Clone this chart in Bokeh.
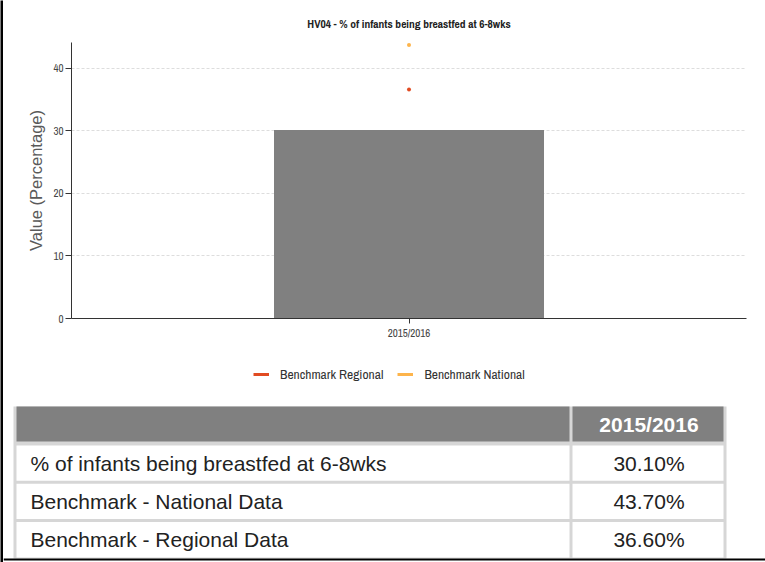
from bokeh.plotting import figure
from bokeh.models import (FactorRange, Range1d, FixedTicker, Legend, LegendItem, Title)
from bokeh.layouts import column, row
from bokeh.core.properties import value
from bokeh.embed import file_html
from bokeh.resources import INLINE

# ---- data ----
years = ["2015/2016"]
indicator = [30.1]
benchmark_national = [43.7]
benchmark_regional = [36.6]
y_ticks = [0, 10, 20, 30, 40]
title_text = "HV04 - % of infants being breastfed at 6-8wks"
row_labels = ["% of infants being breastfed at 6-8wks",
              "Benchmark - National Data",
              "Benchmark - Regional Data"]
row_values = [indicator[0], benchmark_national[0], benchmark_regional[0]]
legend_labels = ["Benchmark Regional", "Benchmark National"]

NARROW = "Archivo Narrow"
SANS = "Liberation Sans"
RED = "#E14B22"
ORANGE = "#FDB44B"

# ---- left page border strip ----
strip = figure(width=3, height=562, output_backend="svg", toolbar_location=None, min_border=0,
               x_axis_location=None, y_axis_location=None, frame_align=False)
strip.border_fill_color = "black"
strip.background_fill_color = "black"
strip.outline_line_color = None
strip.grid.visible = False

# ---- chart ----
p = figure(width=762, height=345, x_range=FactorRange(factors=years, range_padding=0),
           y_range=Range1d(0, 44.1), output_backend="svg", toolbar_location=None,
           min_border_left=68, min_border_right=19, min_border_top=42, min_border_bottom=27,
           frame_align=False)
p.outline_line_color = None
p.background_fill_color = "white"
p.border_fill_color = "white"

p.title = Title(text=title_text, align="center", text_font=NARROW, text_font_size="11.5px",
                text_font_style="bold", text_color="#222", standoff=21)

p.vbar(x=years, top=indicator, width=0.4, color="#808080", line_color=None)
p.scatter(x=years, y=benchmark_regional, size=4, color=RED, line_color=None)
p.scatter(x=years, y=benchmark_national, size=4, color=ORANGE, line_color=None)

p.xgrid.visible = False
p.ygrid.grid_line_color = "#dddddd"
p.ygrid.grid_line_dash = "3 2"
p.ygrid.ticker = FixedTicker(ticks=y_ticks[1:])

ya = p.yaxis[0]
ya.ticker = FixedTicker(ticks=y_ticks)
ya.axis_label = "Value (Percentage)"
ya.axis_label_text_font = SANS
ya.axis_label_text_font_size = "16.5px"
ya.axis_label_text_font_style = "normal"
ya.axis_label_text_color = "#5a5a5a"
ya.axis_label_standoff = 5
ya.major_label_text_font = NARROW
ya.major_label_text_font_size = "11px"
ya.major_label_text_color = "#444"
ya.major_label_standoff = 2
ya.major_tick_out = 6
ya.major_tick_in = 0
ya.minor_tick_out = 0
ya.minor_tick_in = 0
ya.axis_line_color = "#333"
ya.major_tick_line_color = "#333"

xa = p.xaxis[0]
xa.major_label_text_font = NARROW
xa.major_label_text_font_size = "11px"
xa.major_label_text_color = "#444"
xa.major_label_standoff = 2
xa.major_tick_out = 5
xa.major_tick_in = 0
xa.axis_line_color = "#333"
xa.major_tick_line_color = "#333"

# ---- table (plus legend) ----
t = figure(width=762, height=217, x_range=Range1d(3, 765), y_range=Range1d(562, 345),
           output_backend="svg", toolbar_location=None, min_border=0,
           x_axis_location=None, y_axis_location=None, frame_align=False)
t.outline_line_color = None
t.grid.visible = False

# legend swatches (single-point lines draw no mark; used for the legend only)
l_reg = t.line(x=benchmark_regional, y=benchmark_regional, color=RED, line_width=3)
l_nat = t.line(x=benchmark_national, y=benchmark_national, color=ORANGE, line_width=3)
legend = Legend(items=[LegendItem(label=legend_labels[0], renderers=[l_reg]),
                       LegendItem(label=legend_labels[1], renderers=[l_nat])],
                orientation="horizontal", location=(250, 179),
                label_text_font=NARROW, label_text_font_size="13.5px", label_text_color="#333",
                glyph_width=16, glyph_height=14, label_height=14, label_standoff=11,
                spacing=14, padding=0, margin=0,
                border_line_alpha=0, background_fill_alpha=0)
t.add_layout(legend, "center")

tab_left, tab_split, tab_right = 13, 571, 726
head_top, head_bot = 406, 442
row_top0, row_pitch = 444, 38.3

t.quad(left=[tab_left], right=[tab_right], top=[head_top], bottom=[558], color="#d6d6d6", line_color=None)
t.quad(left=[tab_left + 3, tab_split + 1], right=[tab_split - 2, tab_right - 3],
       top=[head_top] * 2, bottom=[head_bot - 1] * 2, color="#808080", line_color=None)
n = len(row_labels)
tops = [row_top0 + i * row_pitch + 1 for i in range(n)]
bots = [row_top0 + (i + 1) * row_pitch - 2 for i in range(n)]
t.quad(left=[tab_left + 3] * n, right=[tab_split - 2] * n, top=tops, bottom=bots, color="white", line_color=None)
t.quad(left=[tab_split + 1] * n, right=[tab_right - 3] * n, top=tops, bottom=bots, color="white", line_color=None)

t.text(x=[(tab_split + tab_right) / 2], y=[(head_top + head_bot) / 2], text=years,
       text_font=value(SANS), text_font_size="21px", text_font_style="bold",
       text_color="white", text_align="center", text_baseline="middle")
mids = [(a + b) / 2 for a, b in zip(tops, bots)]
t.text(x=[30] * n, y=mids, text=row_labels, text_font=value(SANS), text_font_size="21px",
       text_color="#222", text_align="left", text_baseline="middle")
t.text(x=[(tab_split + tab_right) / 2] * n, y=mids, text=[f"{v:.2f}%" for v in row_values],
       text_font=value(SANS), text_font_size="21px",
       text_color="#222", text_align="center", text_baseline="middle")

# page border line at bottom
t.quad(left=[3], right=[765], top=[558], bottom=[560], color="black", line_color=None)

layout = row(strip, column(p, t, spacing=0), spacing=0)
open("out.html", "w").write(file_html(layout, INLINE))
